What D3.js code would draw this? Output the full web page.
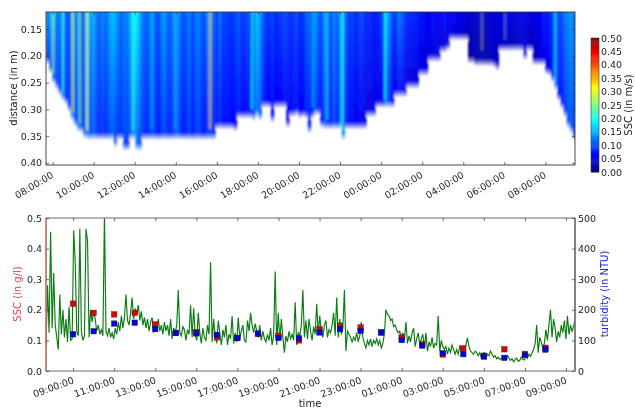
<!DOCTYPE html>
<html>
<head>
    <title>SSC and turbidity</title>
    <script src="https://cdnjs.cloudflare.com/ajax/libs/d3/7.8.5/d3.min.js" type="text/JavaScript"></script>
    <style>
        html, body { margin: 0; padding: 0; background: #fff; }
        svg { display: block; filter: blur(0.35px); }
        text { font-family: "DejaVu Sans", sans-serif; font-size: 9.5px; fill: #222; }
        .domain { display: none; }
        .tick line { stroke: #333; stroke-width: 0.7; }
    </style>
</head>
<body>
    <svg id="viz" width="635" height="409"></svg>
    <script>
        // top panel: one column every 0.15 h from 07:41
        var colStart = 7.68;
        var colStep = 0.15;
        var surfaceSSC = [
            .12,.15,.16,.12,.12,.15,.11,.10,.16,.12,
            .15,.10,.13,.16,.14,.15,.12,.11,.13,.11,
            .14,.16,.15,.13,.11,.13,.12,.16,.19,.18,
            .15,.12,.11,.12,.14,.11,.10,.13,.14,.11,
            .11,.13,.14,.12,.10,.11,.13,.10,.12,.13,
            .11,.10,.13,.14,.11,.09,.12,.09,.10,.09,
            .09,.10,.11,.09,.09,.10,.09,.13,.16,.14,
            .11,.09,.09,.10,.08,.09,.09,.10,.09,.08,
            .09,.10,.08,.09,.11,.12,.10,.14,.11,.10,
            .14,.11,.10,.13,.11,.14,.15,.11,.09,.10,
            .08,.09,.10,.08,.08,.08,.07,.08,.09,.11,
            .16,.13,.10,.09,.12,.11,.09,.08,.08,.08,
            .08,.07,.07,.06,.06,.07,.06,.06,.06,.07,
            .06,.06,.07,.06,.05,.06,.05,.04,.04,.04,
            .04,.05,.04,.04,.04,.05,.05,.05,.06,.07,
            .05,.05,.05,.05,.05,.06,.05,.05,.05,.05,
            .06,.08,.07,.08,.09,.13,.09,.10,.12,.13,
            .14,.12
        ];
        var deepSSC = [
            .09,.11,.10,.10,.09,.11,.09,.09,.12,.10,
            .12,.09,.11,.12,.10,.11,.09,.08,.09,.08,
            .10,.11,.10,.09,.09,.10,.09,.11,.13,.12,
            .10,.09,.08,.09,.10,.09,.07,.09,.10,.08,
            .08,.09,.11,.09,.07,.08,.10,.07,.09,.10,
            .08,.07,.09,.09,.08,.07,.08,.07,.07,.07,
            .06,.07,.08,.07,.06,.07,.07,.10,.12,.11,
            .08,.07,.06,.07,.06,.06,.06,.07,.06,.06,
            .07,.07,.06,.06,.08,.08,.07,.10,.08,.07,
            .10,.08,.07,.10,.08,.11,.12,.08,.07,.07,
            .05,.06,.06,.05,.05,.05,.05,.05,.06,.06,
            .11,.09,.06,.05,.07,.07,.05,.05,.05,.05,
            .05,.05,.05,.04,.05,.05,.05,.04,.05,.05,
            .04,.05,.05,.04,.04,.04,.03,.02,.02,.02,
            .02,.03,.02,.02,.03,.04,.03,.03,.04,.04,
            .03,.03,.03,.03,.04,.04,.03,.03,.04,.03,
            .04,.06,.05,.05,.07,.11,.07,.07,.09,.10,
            .11,.09
        ];
        var bottomDepth = [
            .217,.234,.253,.264,.275,.285,.292,.305,.322,.333,
            .343,.344,.355,.358,.358,.358,.358,.358,.358,.358,
            .358,.358,.372,.358,.358,.378,.378,.358,.358,.378,
            .378,.358,.358,.358,.358,.358,.358,.358,.358,.358,
            .358,.358,.358,.358,.358,.358,.358,.358,.358,.358,
            .358,.358,.358,.358,.358,.338,.338,.338,.338,.338,
            .338,.342,.318,.318,.318,.318,.318,.322,.315,.322,
            .298,.298,.298,.325,.298,.298,.298,.298,.335,.315,
            .315,.312,.318,.315,.318,.345,.318,.312,.312,.335,
            .338,.338,.338,.338,.338,.338,.358,.338,.338,.338,
            .338,.338,.338,.338,.315,.315,.315,.298,.298,.298,
            .298,.298,.298,.278,.278,.278,.278,.262,.262,.262,
            .262,.238,.238,.238,.212,.212,.212,.212,.195,.195,
            .190,.172,.172,.172,.172,.172,.172,.215,.215,.220,
            .220,.220,.220,.220,.220,.222,.228,.192,.192,.192,
            .192,.192,.192,.192,.192,.208,.192,.192,.218,.218,
            .218,.218,.235,.238,.250,.265,.285,.300,.315,.335,
            .345,.360
        ];

        // narrow high-velocity streaks that are thinner than one column
        var streakHours = [8.03,8.51,9.00,9.34,9.68,11.92,12.85,13.97,15.67,17.71,20.68,21.37,22.10,24.19,28.91,30.03,32.47];
        var streakSSC = [.27,.21,.32,.27,.31,.20,.16,.16,.34,.19,.17,.19,.21,.20,.30,.28,.17];
        var streakEnd = [.250,.285,.322,.343,.355,.355,.352,.352,.352,.315,.312,.335,.358,.298,.205,.185,.265];
        var streakAlpha = [.6,.6,.6,.6,.7,.7,.5,.5,.6,.7,.6,.6,.7,.7,.3,.3,.6];

        // bottom panel: turbidity record, thirteen samples per 20 px row
        var lineStart = 7.68;
        var lineStep = 0.0749;
        var turbidity = [
            75,280,125,455,140,320,150,110,70,250,120,200,110,
            170,95,210,100,105,460,355,130,115,465,130,100,115,
            465,425,110,200,160,195,170,130,150,120,135,115,510,
            130,115,140,110,125,105,140,120,160,130,180,140,175,
            250,165,150,190,240,170,205,185,215,165,195,150,175,
            140,170,130,160,175,125,155,135,170,130,150,120,160,
            130,150,115,170,105,140,125,150,265,125,115,145,135,
            100,135,120,215,110,205,120,100,190,125,90,140,110,
            100,150,120,355,95,170,115,90,165,125,85,135,110,
            150,85,120,105,180,90,125,95,175,110,130,150,100,
            95,165,130,190,150,125,155,130,110,150,100,130,105,
            95,120,100,140,85,115,325,85,190,100,170,110,60,
            115,95,130,105,120,100,225,85,125,115,150,265,110,
            165,105,170,130,100,145,120,220,120,180,130,110,150,
            165,110,135,125,150,190,115,240,110,170,120,140,265,
            65,130,120,110,95,110,100,125,95,115,160,110,90,
            75,100,85,105,80,100,90,105,85,100,75,90,120,
            200,185,180,165,170,145,150,135,125,130,105,125,100,
            160,90,115,95,125,140,80,105,125,85,105,120,75,
            125,65,95,80,110,75,90,85,180,65,100,80,70,
            80,55,75,60,85,70,55,70,55,80,65,60,70,
            85,108,80,65,60,55,65,60,50,60,45,55,60,
            40,55,50,65,55,45,50,40,45,38,42,38,40,
            40,50,42,35,40,30,38,42,32,35,45,38,36,
            50,42,55,48,60,70,90,150,60,110,95,75,90,
            135,100,150,200,110,170,140,95,130,110,150,125,165,
            105,180,120,150,130,145,170
        ];

        // hourly bottle samples, hours counted from midnight of day one
        var sampleHours = [9,10,11,12,13,14,15,16,17,18,19,20,21,22,23,24,25,26,27,28,29,30,31,32];
        var sampleSSC = [.22,.19,.185,.19,.152,.125,.127,.11,.108,.122,.115,.10,.136,.148,.142,.126,.11,.087,.054,.074,.05,.071,.056,.076];
        var sampleTurb = [120,130,155,158,137,124,123,118,108,122,108,107,126,137,131,126,101,83,58,55,47,43,52,70];

        var topTickHours = [8,10,12,14,16,18,20,22,24,26,28,30,32];
        var topTickLabels = ["08:00:00","10:00:00","12:00:00","14:00:00","16:00:00","18:00:00","20:00:00","22:00:00","00:00:00","02:00:00","04:00:00","06:00:00","08:00:00"];
        var bottomTickHours = [9,11,13,15,17,19,21,23,25,27,29,31,33];
        var bottomTickLabels = ["09:00:00","11:00:00","13:00:00","15:00:00","17:00:00","19:00:00","21:00:00","23:00:00","01:00:00","03:00:00","05:00:00","07:00:00","09:00:00"];
        var depthTicks = [.15,.20,.25,.30,.35,.40];
        var sscTicks = [0,.1,.2,.3,.4,.5];
        var turbTicks = [0,100,200,300,400,500];
        var barTicks = [0,.05,.1,.15,.2,.25,.3,.35,.4,.45,.5];

        var jetStops = ["#00007f","#0000ff","#007fff","#00ffff","#7fff7f","#ffff00","#ff7f00","#ff0000","#7f0000"];
        var jet = d3.scaleLinear()
            .domain(jetStops.map((c, i) => 0.5 * i / (jetStops.length - 1)))
            .range(jetStops);

        var left = 46, right = 575;
        var xScale = d3.scaleLinear().domain([7.68, 33.44]).range([left, right]);
        var yDepth = d3.scaleLinear().domain([.118, .404]).range([12, 165]);
        var ySSC = d3.scaleLinear().domain([0, .5]).range([371, 218]);
        var yTurb = d3.scaleLinear().domain([0, 500]).range([371, 218]);
        var yBar = d3.scaleLinear().domain([0, .5]).range([172, 38]);

        var svg = d3.select("#viz");
        var defs = svg.append("defs");

        defs.append("clipPath").attr("id", "topClip")
            .append("rect").attr("x", left).attr("y", 12).attr("width", right - left).attr("height", 153);
        defs.append("clipPath").attr("id", "botClip")
            .append("rect").attr("x", left).attr("y", 218).attr("width", right - left).attr("height", 153);
        defs.append("filter").attr("id", "soft")
            .attr("filterUnits", "userSpaceOnUse")
            .attr("x", 30).attr("y", 0).attr("width", 560).attr("height", 180)
            .append("feGaussianBlur").attr("stdDeviation", "0.85 1.2");

        // one vertical gradient per column, fading to white at the bottom
        var columns = surfaceSSC.map((v, i) => ({ i: i, top: v, deep: deepSSC[i], depth: bottomDepth[i] }));
        var grads = defs.selectAll("linearGradient").data(columns).enter().append("linearGradient")
            .attr("id", d => "col" + d.i)
            .attr("gradientUnits", "userSpaceOnUse")
            .attr("x1", 0).attr("x2", 0)
            .attr("y1", yDepth(.118))
            .attr("y2", d => yDepth(d.depth));
        grads.append("stop").attr("offset", 0).attr("stop-color", d => jet(d.top));
        grads.append("stop").attr("offset", d => (yDepth(d.depth) - 8 - 12) / (yDepth(d.depth) - 12))
            .attr("stop-color", d => jet(d.deep));
        grads.append("stop").attr("offset", 1).attr("stop-color", "#fff");

        var heat = svg.append("g").attr("clip-path", "url(#topClip)")
            .append("g").attr("filter", "url(#soft)");
        heat.selectAll("rect").data(columns).enter().append("rect")
            .attr("x", d => xScale(colStart + d.i * colStep))
            .attr("width", xScale(colStart + colStep) - xScale(colStart) + 0.3)
            .attr("y", yDepth(.118) - 4)
            .attr("height", d => yDepth(d.depth) - yDepth(.118) + 4)
            .attr("fill", d => "url(#col" + d.i + ")");
        heat.selectAll("line").data(streakHours).enter().append("line")
            .attr("x1", d => xScale(d)).attr("x2", d => xScale(d))
            .attr("y1", yDepth(.118) - 4)
            .attr("y2", (d, i) => yDepth(streakEnd[i]) - 8)
            .attr("stroke", (d, i) => jet(streakSSC[i]))
            .attr("stroke-opacity", (d, i) => streakAlpha[i])
            .attr("stroke-width", 2.2);

        // top panel frame and axes
        function frame(y0, y1, color, width) {
            svg.append("rect").attr("x", left).attr("y", y0).attr("width", right - left).attr("height", y1 - y0)
                .attr("fill", "none").attr("stroke", color).attr("stroke-width", width);
        }
        function xAxis(y, hours, labels, angle) {
            var g = svg.append("g").attr("transform", "translate(0," + y + ")")
                .call(d3.axisBottom(xScale).tickValues(hours).tickSizeInner(-3).tickSizeOuter(0)
                    .tickFormat((d, i) => labels[i]));
            g.selectAll("text")
                .attr("text-anchor", "end")
                .attr("dy", 0)
                .attr("y", 0)
                .attr("transform", "translate(1,12) rotate(" + angle + ")");
            return g;
        }
        function yAxisL(scale, ticks, fmt) {
            svg.append("g").attr("transform", "translate(" + left + ",0)")
                .call(d3.axisLeft(scale).tickValues(ticks).tickSizeInner(-3).tickSizeOuter(0).tickPadding(4).tickFormat(fmt));
        }
        function yAxisR(scale, ticks, fmt, pad) {
            svg.append("g").attr("transform", "translate(" + right + ",0)")
                .call(d3.axisRight(scale).tickValues(ticks).tickSizeInner(-3).tickSizeOuter(0).tickPadding(pad).tickFormat(fmt));
        }

        frame(12, 165, "#333", 0.9);
        xAxis(165, topTickHours, topTickLabels, -31);
        yAxisL(yDepth, depthTicks, d3.format(".2f"));
        svg.append("g").attr("transform", "translate(" + right + ",0)")
            .call(d3.axisRight(yDepth).tickValues(depthTicks).tickSizeInner(-3).tickSizeOuter(0).tickFormat(""));
        svg.append("g").attr("transform", "translate(0,12)")
            .call(d3.axisTop(xScale).tickValues(topTickHours).tickSizeInner(-3).tickSizeOuter(0).tickFormat(""));

        svg.append("text").attr("transform", "translate(17,88) rotate(-90)")
            .attr("text-anchor", "middle").style("font-size", "10px").text("distance (in m)");

        // colour bar
        var barSteps = d3.range(0, .5, .004);
        svg.append("g").selectAll("rect").data(barSteps).enter().append("rect")
            .attr("x", 591).attr("width", 8)
            .attr("y", d => yBar(d + .004))
            .attr("height", d => yBar(d) - yBar(d + .004) + 0.4)
            .attr("fill", d => jet(d));
        svg.append("rect").attr("x", 591).attr("y", 38).attr("width", 8).attr("height", 134)
            .attr("fill", "none").attr("stroke", "#333").attr("stroke-width", 0.6);
        svg.append("g").attr("transform", "translate(599,0)")
            .call(d3.axisRight(yBar).tickValues(barTicks).tickSizeInner(0).tickSizeOuter(0).tickPadding(2).tickFormat(d3.format(".2f")));
        svg.append("text").attr("transform", "translate(632,105) rotate(-90)")
            .attr("text-anchor", "middle").style("font-size", "10px").text("SSC (in m/s)");

        // bottom panel
        var line = d3.line()
            .x((d, i) => xScale(lineStart + i * lineStep))
            .y(d => yTurb(d));
        var plot = svg.append("g").attr("clip-path", "url(#botClip)");
        plot.append("path").attr("d", line(turbidity))
            .attr("fill", "none").attr("stroke", "#0a7d12").attr("stroke-width", 1.15);

        plot.selectAll(".red").data(sampleHours).enter().append("rect").attr("class", "red")
            .attr("x", d => xScale(d) - 2.75)
            .attr("y", (d, i) => ySSC(sampleSSC[i]) - 2.75)
            .attr("width", 5.5).attr("height", 5.5)
            .attr("fill", "#e00000").attr("stroke", "#222").attr("stroke-width", 0.4);
        plot.selectAll(".blue").data(sampleHours).enter().append("rect").attr("class", "blue")
            .attr("x", d => xScale(d) - 2.75)
            .attr("y", (d, i) => yTurb(sampleTurb[i]) - 2.75)
            .attr("width", 5.5).attr("height", 5.5)
            .attr("fill", "#0000e0").attr("stroke", "#222").attr("stroke-width", 0.4);

        frame(218, 371, "#777", 1.1);
        svg.append("line").attr("x1", right).attr("x2", right).attr("y1", 218).attr("y2", 371)
            .attr("stroke", "#777").attr("stroke-width", 1.6);
        svg.append("line").attr("x1", left).attr("x2", left).attr("y1", 218).attr("y2", 371)
            .attr("stroke", "#e86060").attr("stroke-width", 1.2);

        xAxis(371, bottomTickHours, bottomTickLabels, -20);
        svg.append("g").attr("transform", "translate(0,218)")
            .call(d3.axisTop(xScale).tickValues(bottomTickHours).tickSizeInner(-3).tickSizeOuter(0).tickFormat(""));
        yAxisL(ySSC, sscTicks, d3.format(".1f"));
        yAxisR(yTurb, turbTicks, d3.format("d"), 3);

        svg.append("text").attr("transform", "translate(21,294) rotate(-90)")
            .attr("text-anchor", "middle").style("font-size", "10px").style("fill", "#e8404a").text("SSC (in g/l)");
        svg.append("text").attr("transform", "translate(608,294) rotate(-90)")
            .attr("text-anchor", "middle").style("font-size", "10px").style("fill", "#2020e0").text("turbidity (in NTU)");
        svg.append("text").attr("x", 310).attr("y", 407)
            .attr("text-anchor", "middle").style("font-size", "10px").text("time");
    </script>
</body>
</html>
